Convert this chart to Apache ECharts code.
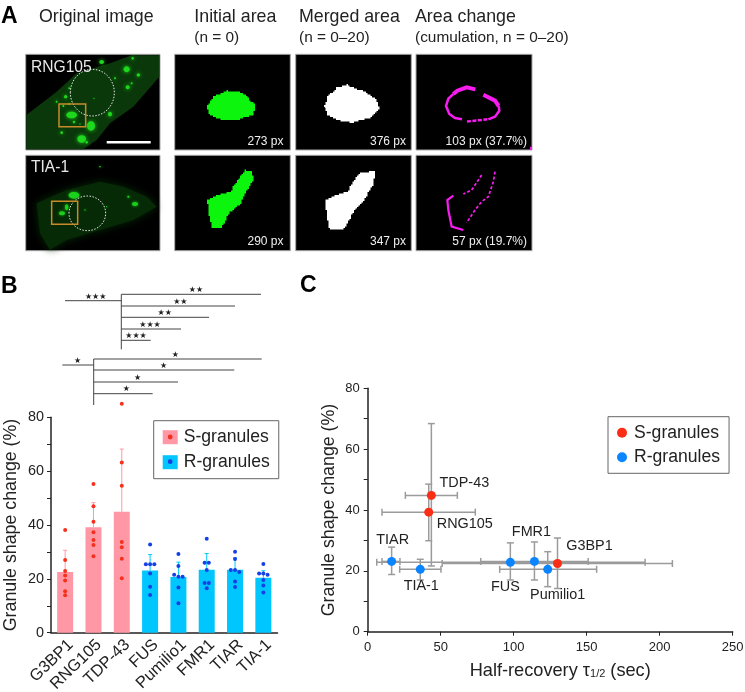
<!DOCTYPE html>
<html>
<head>
<meta charset="utf-8">
<title>Granule shape change</title>
<script src="https://cdn.jsdelivr.net/npm/echarts@6/dist/echarts.min.js"></script>
<style>
  html, body { margin: 0; padding: 0; background: #fff; }
  #chart { width: 745px; height: 692px; }
</style>
</head>
<body>
<div id="chart"></div>
<script>
// bar chart (panel B)
var categories = ['G3BP1', 'RNG105', 'TDP-43', 'FUS', 'Pumilio1', 'FMR1', 'TIAR', 'TIA-1']
var groupS = [0, 1, 2]
var groupR = [3, 4, 5, 6, 7]
var meanShape = [22.5, 39.2, 44.9, 23.1, 20.7, 23.4, 23.4, 20.4]
var upperShape = [30.6, 48.3, 68.2, 29, 26.2, 29.4, 27.8, 23]
var pointsG3BP1 = [38.1, 27, 22.9, 21.2, 19.4, 15.4, 13.9]
var pointsRNG105 = [55.2, 47, 41.2, 37.3, 34.4, 32.6, 28.4]
var pointsTDP43 = [85, 63.2, 54.6, 33.7, 31.7, 27.5, 20.2]
var pointsFUS = [32.8, 25.4, 25.4, 25.4, 22, 17.1, 14]
var pointsPumilio1 = [29.2, 24.8, 21.5, 20.8, 20.8, 16.8, 10.9]
var pointsFMR1 = [34.9, 26, 26, 23.3, 18.5, 18.5, 16.5]
var pointsTIAR = [30.1, 27.4, 23.3, 23.3, 22.5, 19, 17]
var pointsTIA1 = [25.5, 22, 22, 21.5, 19.6, 17.5, 14.9]
var allPoints = [pointsG3BP1, pointsRNG105, pointsTDP43, pointsFUS, pointsPumilio1, pointsFMR1, pointsTIAR, pointsTIA1]

// scatter chart (panel C)
var tauMean = [130, 41.8, 43.6, 97.7, 123.3, 114.2, 16.4, 36]
var tauLow = [51, 9.8, 25.8, 6.2, 90.4, 77.4, 9.8, 21.9]
var tauHigh = [208.7, 73.7, 61.4, 190, 156.8, 151, 22.1, 50.2]
var shapeMean = [22.4, 39.3, 44.8, 22.8, 20.5, 23.1, 23.1, 20.5]
var shapeLow = [14.2, 29.9, 21.6, 17, 14.8, 17, 18.8, 17]
var shapeHigh = [30.8, 48.5, 68.4, 29.2, 26.3, 29.5, 27.8, 23.8]
var labelOffsets = [[32, -18], [36, 12], [33, -12], [-5, 25], [10, 26], [-3, -29], [1, -21], [1, 17]]

// panel A captions
var rowNames = ['RNG105', 'TIA-1']
var initialArea = ['273 px', '290 px']
var mergedArea = ['376 px', '347 px']
var areaChange = ['103 px (37.7%)', '57 px (19.7%)']

var FONT = '"Liberation Sans", Arial, Helvetica, sans-serif'
var INK = '#222'
var GREY = '#9b9b9b'
var S_BAR = '#ff98a4'
var R_BAR = '#00c6ff'
var S_DOT = '#f5301c'
var R_DOT = '#1440e6'
var S_POINT = '#fb2d14'
var R_POINT = '#0a84ff'

var g = []

function text(x, y, str, size, opt) {
  opt = opt || {}
  g.push({
    type: 'text', x: x, y: y, z: opt.z || 10,
    style: {
      text: str, fontSize: size, fontFamily: opt.family || FONT, fontWeight: opt.weight || 'normal',
      fill: opt.fill || INK, align: opt.align || 'left', verticalAlign: 'middle'
    }
  })
}
function line(x1, y1, x2, y2, color, width, dash) {
  g.push({
    type: 'line', z: 8, shape: { x1: x1, y1: y1, x2: x2, y2: y2 },
    style: { stroke: color || '#444', lineWidth: width || 1, lineDash: dash }
  })
}
function third(pts, dx) {
  return pts.map(function(p) { return [p[0] / 3 + (dx || 0), p[1] / 3] })
}
// turns a smooth outline into the stair steps of a pixel mask
function steps(pts) {
  var out = []
  pts.forEach(function(p, i) {
    var q = pts[(i + 1) % pts.length]
    var n = Math.max(1, Math.ceil(Math.hypot(q[0] - p[0], q[1] - p[1]) / 2))
    for (var k = 0; k < n; k++) {
      var x = Math.round((p[0] + (q[0] - p[0]) * k / n) / 1.5) * 1.5
      var y = Math.round((p[1] + (q[1] - p[1]) * k / n) / 1.5) * 1.5
      var last = out[out.length - 1]
      if (last && last[0] !== x && last[1] !== y) out.push([x, last[1]])
      out.push([x, y])
    }
  })
  return out
}
function mask(pts, color) {
  g.push({ type: 'polygon', z: 4, shape: { points: steps(third(pts)) }, style: { fill: color } })
}
function stroke(pts, width, dash) {
  g.push({
    type: 'polyline', z: 4, shape: { points: third(pts, 400) },
    style: { stroke: '#f81cf0', fill: null, lineWidth: width, lineDash: dash, lineCap: 'butt' }
  })
}
function panel(x1, y1, x2, y2) {
  g.push({
    type: 'rect', z: 2, shape: { x: x1, y: y1, width: x2 - x1, height: y2 - y1 },
    style: { fill: '#000', stroke: '#a8a8a8', lineWidth: 1 }
  })
}
function blob(b, color, blur) {
  g.push({
    type: 'ellipse', z: 4, shape: { cx: b[0] / 3, cy: b[1] / 3, rx: b[2] / 3, ry: b[3] / 3 },
    style: { fill: color, shadowBlur: blur, shadowColor: color }
  })
}

var colX = [[25.7, 160], [174.7, 290.3], [295.7, 411.3], [416, 532]]
var rowY = [[54.3, 150], [155.3, 250.7]]
colX.forEach(function(c) {
  rowY.forEach(function(r) { panel(c[0], r[0], c[1], r[1]) })
})

// panel A headings
text(1, 17, 'A', 23, { weight: 'bold', fill: '#000' })
text(39, 17, 'Original image', 17.8)
text(194.3, 17, 'Initial area', 17.8)
text(194.3, 38, '(n = 0)', 15.4)
text(299, 17, 'Merged area', 17.8)
text(299, 38, '(n = 0\u201320)', 15.4)
text(415, 17, 'Area change', 17.8)
text(415, 38, '(cumulation, n = 0\u201320)', 15.4)

// original image, top row
g.push({
  type: 'polygon', z: 3,
  shape: { points: third([[79, 345], [170, 275], [230, 220], [330, 190], [395, 166], [478, 166], [478, 230], [400, 320], [330, 370], [290, 420], [250, 448], [79, 448]]) },
  style: { fill: '#0a380a' }
})
var blobs1 = [[215, 345, 16, 10], [273, 378, 12, 14], [245, 417, 13, 11], [305, 186, 7, 6], [380, 208, 9, 9], [383, 262, 6, 6],
  [415, 225, 5, 5], [395, 250, 3, 3], [330, 342, 6, 7], [398, 175, 4, 4], [197, 290, 5, 5], [208, 265, 3, 3], [260, 427, 4, 4],
  [222, 366, 4, 4], [185, 398, 4, 4], [190, 318, 3, 3], [170, 305, 3, 3], [345, 235, 3, 3], [282, 295, 2, 2], [208, 312, 3, 3], [240, 372, 2, 2]]
blobs1.forEach(function(b) { blob(b, '#1ed81e', 4) })

// original image, bottom row
g.push({
  type: 'polygon', z: 3,
  shape: { points: third([[110, 610], [200, 570], [300, 545], [370, 560], [440, 590], [470, 620], [400, 660], [300, 690], [200, 720], [150, 749], [120, 700]]) },
  style: { fill: '#062a06', shadowBlur: 8, shadowColor: '#062a06' }
})
var blobs2 = [[222, 586, 16, 10], [186, 640, 9, 6], [200, 622, 5, 9], [405, 612, 9, 6], [385, 590, 3, 3], [320, 620, 2, 2], [300, 500, 3, 2], [255, 630, 2, 2]]
blobs2.forEach(function(b) { blob(b, '#1ad01a', 3) })

;[[277, 278, 66, 70], [262, 640, 55, 52]].forEach(function(e) {
  g.push({
    type: 'ellipse', z: 5, shape: { cx: e[0] / 3, cy: e[1] / 3, rx: e[2] / 3, ry: e[3] / 3 },
    style: { fill: null, stroke: '#e8e8e8', lineWidth: 1, lineDash: [1.5, 1.5] }
  })
})
;[[177, 312, 80, 68], [155, 604, 78, 69]].forEach(function(r) {
  g.push({
    type: 'rect', z: 6, shape: { x: r[0] / 3, y: r[1] / 3, width: r[2] / 3, height: r[3] / 3 },
    style: { fill: null, stroke: '#c98a2a', lineWidth: 1.5 }
  })
})
g.push({ type: 'rect', z: 6, shape: { x: 106.7, y: 141, width: 44, height: 2.6 }, style: { fill: '#fff' } })

// segmentation masks
mask([[620, 320], [640, 290], [680, 272], [725, 278], [765, 315], [762, 345], [720, 358], [665, 358], [630, 345]], '#0cf50c')
mask([[622, 600], [650, 585], [690, 575], [712, 540], [735, 510], [755, 515], [762, 540], [740, 575], [720, 615], [690, 640], [665, 685], [638, 685], [628, 650]], '#0cf50c')
mask([[972, 320], [985, 285], [1010, 262], [1040, 254], [1060, 265], [1095, 275], [1130, 300], [1138, 330], [1115, 352], [1060, 368], [1020, 362], [985, 345]], '#fff')
mask([[976, 600], [1005, 585], [1040, 575], [1075, 520], [1125, 512], [1120, 560], [1085, 610], [1060, 640], [1032, 690], [990, 690], [982, 650]], '#fff')

// area change outlines
stroke([[160, 282], [172, 272], [200, 262], [226, 268]], 4)
stroke([[250, 284], [285, 302], [296, 318]], 4)
stroke([[160, 282], [145, 296], [138, 318], [148, 342], [165, 354], [186, 358]], 2.5)
stroke([[296, 318], [298, 332], [285, 350], [265, 358]], 2.5)
stroke([[262, 358], [198, 365]], 2.5, [4, 1.5])
stroke([[245, 525], [225, 555], [215, 570], [190, 582]], 1.7, [3, 2])
stroke([[285, 515], [280, 545], [265, 590], [245, 605], [225, 630], [200, 668]], 1.7, [3, 2])
stroke([[160, 587], [142, 600], [145, 630], [155, 680], [190, 690]], 2.2)
g.push({ type: 'rect', z: 4, shape: { x: 530, y: 146.7, width: 2, height: 3.3 }, style: { fill: '#f81cf0' } })

rowNames.forEach(function(name, i) {
  var cy = [67.5, 167.5][i]
  var ty = [141.3, 241.7][i]
  text(31, cy, name, 15.6, { fill: '#e8e8e8' })
  text(283.5, ty, initialArea[i], 12, { fill: '#f0f0f0', align: 'right' })
  text(406, ty, mergedArea[i], 12, { fill: '#f0f0f0', align: 'right' })
  text(527, ty, areaChange[i], 12, { fill: '#f0f0f0', align: 'right' })
})

// significance brackets of panel B
text(1, 287, 'B', 23, { weight: 'bold', fill: '#000' })
text(300, 286, 'C', 23, { weight: 'bold', fill: '#000' })
function stars(x, y, n) {
  text(x, y, new Array(n + 1).join('\u2605'), 8, { family: '"DejaVu Sans"', fill: '#222', align: 'center' })
}
function bracket(sx, stubFrom, stubY, stubMark, vEnd, stubStars, arms) {
  line(stubFrom, stubY, sx, stubY, '#444', 1)
  stars(stubMark, stubY - 4, stubStars)
  line(sx, arms[0][0], sx, vEnd, '#444', 1)
  arms.forEach(function(a) {
    line(sx, a[0], a[1], a[0], '#444', 1)
    stars(a[2], a[0] - 4.4, a[3])
  })
}
bracket(121.3, 65, 300.7, 95.7, 349.3, 3,
  [[294.3, 261, 196, 2], [306, 235, 180.3, 2], [317.3, 209, 164.7, 2], [329, 181, 150, 3], [340.3, 150.7, 136, 3]])
bracket(93.7, 62.3, 365, 77.7, 405, 1,
  [[359, 261.7, 175.3, 1], [370, 234.3, 163.7, 1], [382, 178, 137.7, 1], [393.7, 152.7, 126.3, 1]])

// legend swatch dots in panel B
;[[S_DOT, 437], [R_DOT, 461.7]].forEach(function(d) {
  g.push({ type: 'circle', z: 20, shape: { cx: 170.2, cy: d[1], r: 2.4 }, style: { fill: d[0] } })
})

// points inside one category are pushed apart when they nearly coincide
function spreadPoints(vals, catIndex) {
  return vals.map(function(v, i) {
    var close = []
    vals.forEach(function(w, j) { if (Math.abs(w - v) < 1) close.push(j) })
    var pos = close.indexOf(i) - (close.length - 1) / 2
    return [catIndex + 0.5 + pos * 0.15, v]
  })
}
var pointsS = []
var pointsR = []
allPoints.forEach(function(vals, i) {
  var list = spreadPoints(vals, i)
  if (groupS.indexOf(i) >= 0) pointsS = pointsS.concat(list)
  else pointsR = pointsR.concat(list)
})

function pick(arr, group) {
  return arr.map(function(v, i) { return group.indexOf(i) >= 0 ? v : null })
}
function capData(group) {
  return group.map(function(i) { return [i + 0.5, meanShape[i], upperShape[i]] })
}
function renderUpper(color) {
  return function(params, api) {
    var top = api.coord([api.value(0), api.value(2)])
    var base = api.coord([api.value(0), api.value(1)])
    var style = { stroke: color, lineWidth: 1 }
    return {
      type: 'group',
      children: [
        { type: 'line', shape: { x1: base[0], y1: base[1], x2: top[0], y2: top[1] }, style: style },
        { type: 'line', shape: { x1: top[0] - 2, y1: top[1], x2: top[0] + 2, y2: top[1] }, style: style }
      ]
    }
  }
}
function renderCross(params, api) {
  var c = api.coord([api.value(0), api.value(1)])
  var l = api.coord([api.value(2), api.value(1)])
  var r = api.coord([api.value(3), api.value(1)])
  var b = api.coord([api.value(0), api.value(4)])
  var t = api.coord([api.value(0), api.value(5)])
  var style = { stroke: GREY, lineWidth: 1.5 }
  var cap = 3.5
  function seg(x1, y1, x2, y2) {
    return { type: 'line', shape: { x1: x1, y1: y1, x2: x2, y2: y2 }, style: style }
  }
  return {
    type: 'group',
    children: [
      seg(l[0], c[1], r[0], c[1]), seg(c[0], b[1], c[0], t[1]),
      seg(l[0], c[1] - cap, l[0], c[1] + cap), seg(r[0], c[1] - cap, r[0], c[1] + cap),
      seg(c[0] - cap, b[1], c[0] + cap, b[1]), seg(c[0] - cap, t[1], c[0] + cap, t[1])
    ]
  }
}
function scatterData(group) {
  return group.map(function(i) {
    return {
      name: categories[i],
      value: [tauMean[i], shapeMean[i]],
      label: { offset: labelOffsets[i] }
    }
  })
}
var crossData = categories.map(function(c, i) {
  return [tauMean[i], shapeMean[i], tauLow[i], tauHigh[i], shapeLow[i], shapeHigh[i]]
})
var pointLabel = {
  show: true, position: 'inside', color: INK, fontSize: 14.4, fontFamily: FONT,
  formatter: function(p) { return p.name }
}

var axisLine = { lineStyle: { color: INK, width: 1.5 } }
var axisTick = { length: 4, lineStyle: { color: INK, width: 1 } }

var option = {
  animation: false,
  backgroundColor: '#fff',
  textStyle: { fontFamily: FONT },
  grid: [
    { left: 51, top: 417.3, width: 226.5, height: 215.4, outerBoundsMode: 'none' },
    { left: 367.7, top: 388.3, width: 365, height: 243.4, outerBoundsMode: 'none' }
  ],
  legend: [
    {
      left: 153.7, top: 420.7, orient: 'vertical', selectedMode: false, z: 15,
      padding: [6.5, 9, 6.5, 9], itemGap: 5, itemWidth: 15, itemHeight: 14, align: 'left',
      backgroundColor: '#fff', borderColor: '#666', borderWidth: 1,
      textStyle: { fontSize: 17.6, fontFamily: FONT, color: INK, lineHeight: 20, padding: [0, 0, 0, 1] },
      data: [
        { name: 'S-granules', icon: 'rect', itemStyle: { color: S_BAR } },
        { name: 'R-granules', icon: 'rect', itemStyle: { color: R_BAR } }
      ]
    },
    {
      left: 608, top: 416.7, orient: 'vertical', selectedMode: false,
      padding: [6, 9, 6, 9], itemGap: 4.6, itemWidth: 10, itemHeight: 10, align: 'left',
      backgroundColor: '#fff', borderColor: '#666', borderWidth: 1,
      textStyle: { fontSize: 17.6, fontFamily: FONT, color: INK, lineHeight: 20, padding: [0, 0, 0, 2] },
      data: [
        { name: 'S-granules', icon: 'circle', itemStyle: { color: S_POINT } },
        { name: 'R-granules', icon: 'circle', itemStyle: { color: R_POINT } }
      ]
    }
  ],
  xAxis: [
    {
      gridIndex: 0, type: 'category', data: categories,
      axisLine: axisLine, axisTick: { show: false },
      axisLabel: { rotate: 44, fontSize: 16.4, color: INK, margin: 4, interval: 0, fontFamily: FONT, verticalAlign: 'top' }
    },
    { gridIndex: 0, type: 'value', min: 0, max: 8, show: false },
    {
      gridIndex: 1, type: 'value', min: 0, max: 250, interval: 50,
      axisLine: axisLine, axisTick: axisTick, splitLine: { show: false },
      axisLabel: { fontSize: 13, color: INK, margin: 9, fontFamily: FONT },
      name: '{a|Half-recovery \u03c4}{s|1/2}{a| (sec)}',
      nameLocation: 'middle', nameGap: 30,
      nameTextStyle: {
        padding: [0, 0, 0, 20],
        rich: {
          a: { fontSize: 18.2, color: INK, fontFamily: FONT },
          s: { fontSize: 11, color: INK, fontFamily: FONT, verticalAlign: 'bottom', padding: [6, 0, 0, 0] }
        }
      }
    }
  ],
  yAxis: [
    {
      gridIndex: 0, type: 'value', min: 0, max: 80, interval: 10,
      axisLine: Object.assign({ show: true }, axisLine), axisTick: Object.assign({ show: true }, axisTick), splitLine: { show: false },
      axisLabel: {
        fontSize: 14.4, color: INK, margin: 7, fontFamily: FONT,
        formatter: function(v) { return v % 20 === 0 ? v : '' }
      },
      name: 'Granule shape change (%)', nameLocation: 'middle', nameGap: 31,
      nameTextStyle: { fontSize: 17.8, color: INK, fontFamily: FONT }
    },
    {
      gridIndex: 1, type: 'value', min: 0, max: 80, interval: 10,
      axisLine: Object.assign({ show: true }, axisLine), axisTick: Object.assign({ show: true }, axisTick), splitLine: { show: false },
      axisLabel: {
        fontSize: 13, color: INK, margin: 8, fontFamily: FONT,
        formatter: function(v) { return v % 20 === 0 ? v : '' }
      },
      name: 'Granule shape change (%)', nameLocation: 'middle', nameGap: 30,
      nameTextStyle: { fontSize: 17.8, color: INK, fontFamily: FONT }
    }
  ],
  series: [
    {
      name: 'S-granules', type: 'bar', xAxisIndex: 0, yAxisIndex: 0, barWidth: 16, barGap: '-100%',
      data: pick(meanShape, groupS), itemStyle: { color: S_BAR }
    },
    {
      name: 'R-granules', type: 'bar', xAxisIndex: 0, yAxisIndex: 0, barWidth: 16, barGap: '-100%',
      data: pick(meanShape, groupR), itemStyle: { color: R_BAR }
    },
    {
      name: 'S error', type: 'custom', xAxisIndex: 1, yAxisIndex: 0, z: 3, clip: false,
      data: capData(groupS), renderItem: renderUpper(S_BAR), encode: { x: 0, y: [1, 2] }
    },
    {
      name: 'R error', type: 'custom', xAxisIndex: 1, yAxisIndex: 0, z: 3, clip: false,
      data: capData(groupR), renderItem: renderUpper(R_BAR), encode: { x: 0, y: [1, 2] }
    },
    {
      name: 'S points', type: 'scatter', xAxisIndex: 1, yAxisIndex: 0, z: 4, clip: false, symbolSize: 4,
      data: pointsS, itemStyle: { color: S_DOT, opacity: 1 }
    },
    {
      name: 'R points', type: 'scatter', xAxisIndex: 1, yAxisIndex: 0, z: 4, clip: false, symbolSize: 4,
      data: pointsR, itemStyle: { color: R_DOT, opacity: 1 }
    },
    {
      name: 'error', type: 'custom', xAxisIndex: 2, yAxisIndex: 1, z: 3, clip: false,
      data: crossData, renderItem: renderCross, encode: { x: [0, 2, 3], y: [1, 4, 5] }
    },
    {
      name: 'S-granules', type: 'scatter', xAxisIndex: 2, yAxisIndex: 1, z: 5, symbolSize: 9,
      data: scatterData(groupS), itemStyle: { color: S_POINT, opacity: 1 }, label: pointLabel
    },
    {
      name: 'R-granules', type: 'scatter', xAxisIndex: 2, yAxisIndex: 1, z: 5, symbolSize: 9,
      data: scatterData(groupR), itemStyle: { color: R_POINT, opacity: 1 }, label: pointLabel
    }
  ],
  graphic: g
}

var chart = echarts.init(document.getElementById('chart'), null, { renderer: 'canvas' })
chart.setOption(option)
</script>
</body>
</html>
